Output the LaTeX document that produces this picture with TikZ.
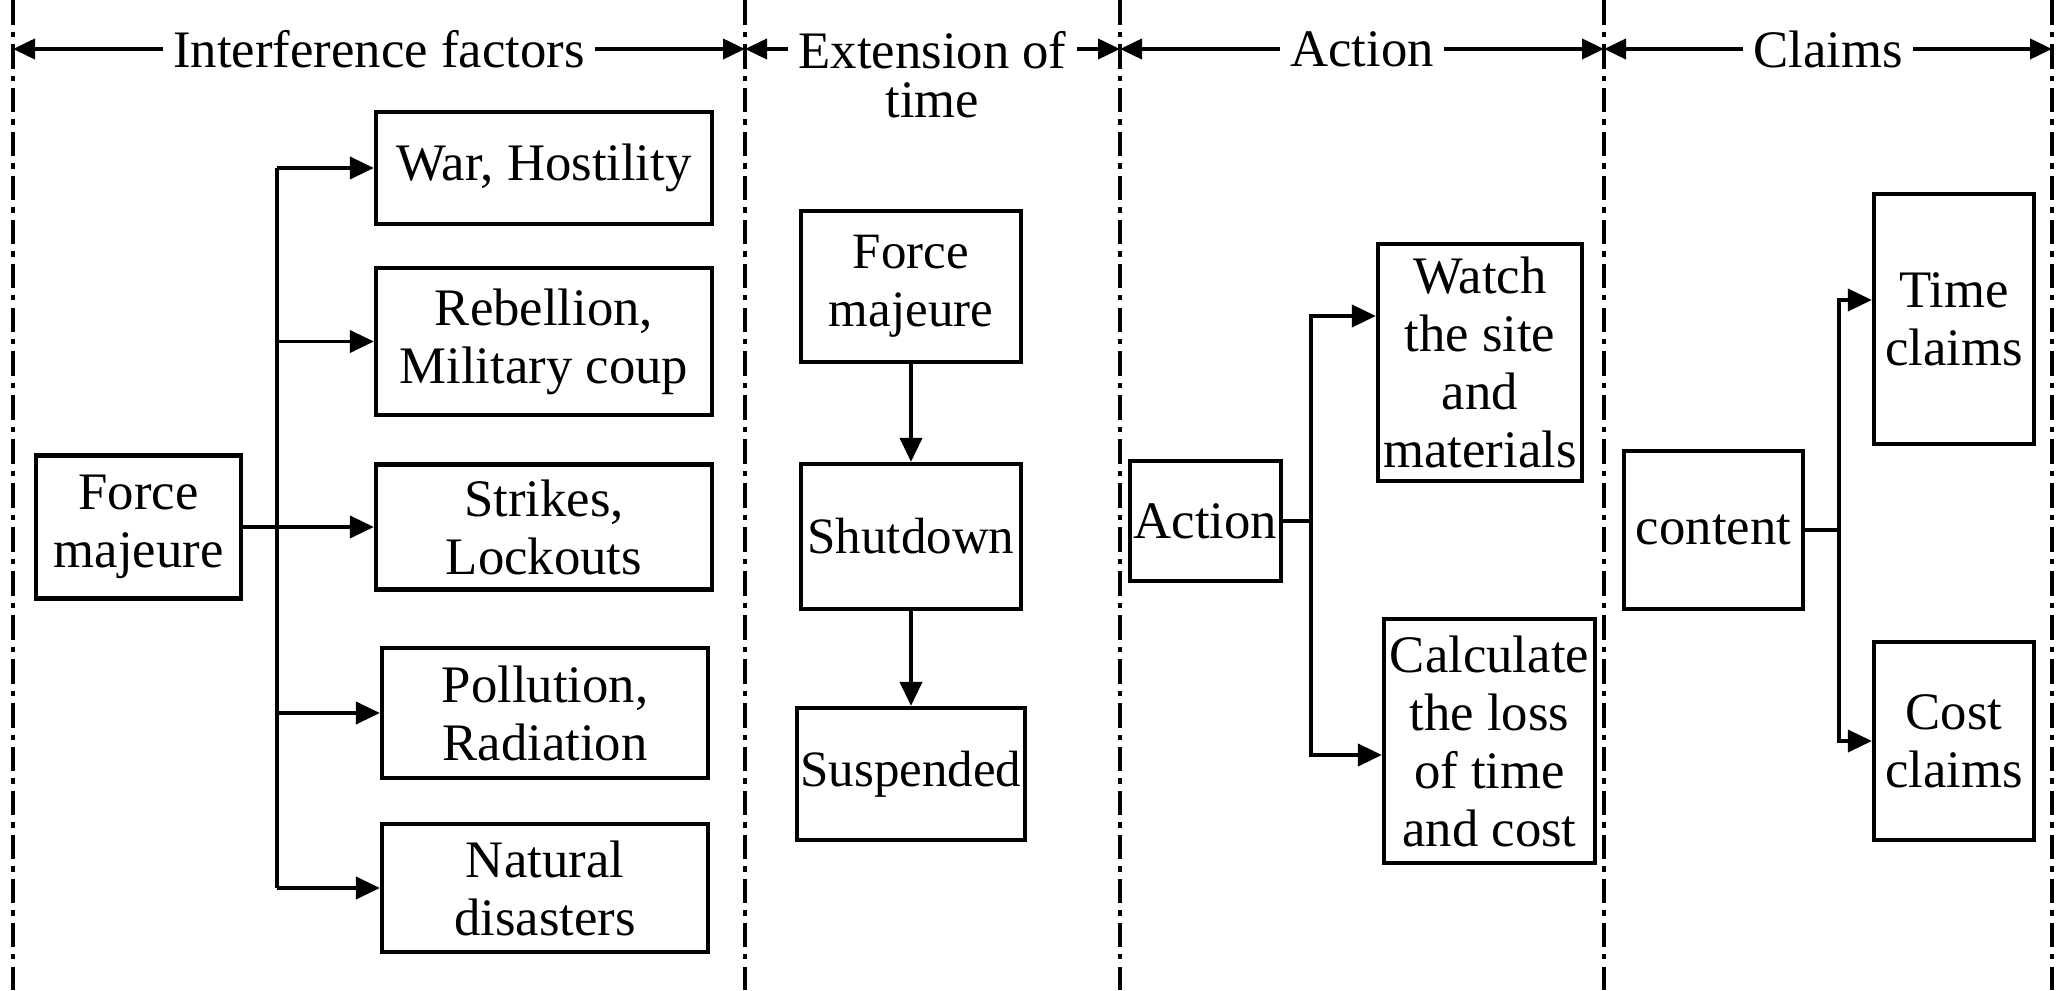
\documentclass[tikz,border=0pt]{standalone}
\usepackage{fontspec}
\setmainfont{Liberation Serif}
\usetikzlibrary{arrows.meta,positioning}

\begin{document}
\begin{tikzpicture}[
    font=\fontsize{15}{16.5}\selectfont,
    box/.style={draw, line width=1.2pt, align=center, inner sep=1pt},
    arr/.style={line width=1.1pt, -{Triangle[length=2.4mm,width=2.2mm]}},
    link/.style={line width=1.1pt},
    harr/.style={line width=1.1pt, {Triangle[length=2.2mm,width=2mm]}-{Triangle[length=2.2mm,width=2mm]}},
    sep/.style={line width=0.9pt, dash pattern=on 7pt off 2pt on 1.5pt off 2pt}
]
    \useasboundingbox (0,0) rectangle (20.67,9.9);

    % column separators
    \foreach \x/\n in {0.13/1, 7.45/2, 11.20/3, 16.04/4, 20.52/5} {
        \draw[sep] (\x,9.9) -- (\x,0);
        \coordinate (h\n) at (\x,9.41);
    }

    % headings
    \draw[harr] (h1) -- (h2) node[midway, fill=white, inner sep=3pt] (hint) {Interference factors};
    \draw[harr] (h2) -- (h3) node[midway, anchor=north, yshift=6pt, fill=white, align=center,
        inner xsep=3pt, inner ysep=0.5pt] (hext) {Extension of\\[-2.5pt]time};
    \draw[harr] (h3) -- (h4) node[midway, fill=white, inner sep=3pt] (hact) {Action};
    \draw[harr] (h4) -- (h5) node[midway, fill=white, inner sep=3pt] (hclm) {Claims};

    % interference factors
    \node[box, minimum width=2.05cm, minimum height=1.43cm] (fmA) at (1.385,4.63) {Force\\majeure};
    \node[box, minimum width=3.36cm, minimum height=1.12cm] (war) at (5.44,8.22) {War, Hostility};
    \node[box, minimum width=3.36cm, minimum height=1.47cm] (reb) at (5.44,6.485) {Rebellion,\\Military coup};
    \node[box, minimum width=3.36cm, minimum height=1.25cm] (strike) at (5.44,4.63) {Strikes,\\Lockouts};
    \node[box, minimum width=3.26cm, minimum height=1.30cm] (poll) at (5.45,2.77) {Pollution,\\Radiation};
    \node[box, minimum width=3.26cm, minimum height=1.28cm] (nat) at (5.45,1.02) {Natural\\disasters};
    \coordinate (trunkA) at (2.77,0);
    \draw[link] (trunkA |- war) -- (trunkA |- nat);
    \draw[arr] (fmA) -- (strike);
    \foreach \b in {war, reb, poll, nat}
        \draw[arr] (trunkA |- \b) -- (\b.west);

    % extension of time
    \begin{scope}[font=\fontsize{14.5}{16.5}\selectfont]
    \node[box, minimum width=2.2cm, minimum height=1.51cm] (fmB) at (9.11,7.035) {Force\\majeure};
    \node[box, minimum width=2.2cm, minimum height=1.45cm] (shut) at (9.11,4.535) {Shutdown};
    \node[box, minimum width=2.2cm, minimum height=1.32cm] (susp) at (9.11,2.16) {Suspended};
    \end{scope}
    \draw[arr] (fmB) -- (shut);
    \draw[arr] (shut) -- (susp);

    % action
    \node[box, minimum width=1.51cm, minimum height=1.2cm] (act) at (12.055,4.69) {Action};
    \node[box, minimum width=2.04cm, minimum height=2.37cm] (watch) at (14.80,6.275) {Watch\\the site\\and\\materials};
    \node[box, minimum width=2.11cm, minimum height=2.44cm] (calc) at (14.895,2.49) {Calculate\\the loss\\of time\\and cost};
    \coordinate (trunkC) at (13.11,0);
    \draw[link] (act.east) -- (trunkC |- act.east);
    \draw[arr] (trunkC |- act.east) |- ([yshift=4.65mm]watch.west);
    \draw[arr] (trunkC |- act.east) |- ([yshift=-1.4mm]calc.west);

    % claims
    \node[box, minimum width=1.79cm, minimum height=1.58cm] (cont) at (17.135,4.6) {content};
    \node[box, minimum width=1.6cm, minimum height=2.5cm] (timec) at (19.54,6.71) {Time\\claims};
    \node[box, minimum width=1.6cm, minimum height=1.98cm] (costc) at (19.54,2.49) {Cost\\claims};
    \coordinate (trunkD) at (18.39,0);
    \draw[link] (cont.east) -- (trunkD |- cont.east);
    \draw[arr] (trunkD |- cont.east) |- ([yshift=1.9mm]timec.west);
    \draw[arr] (trunkD |- cont.east) |- (costc.west);
\end{tikzpicture}
\end{document}
